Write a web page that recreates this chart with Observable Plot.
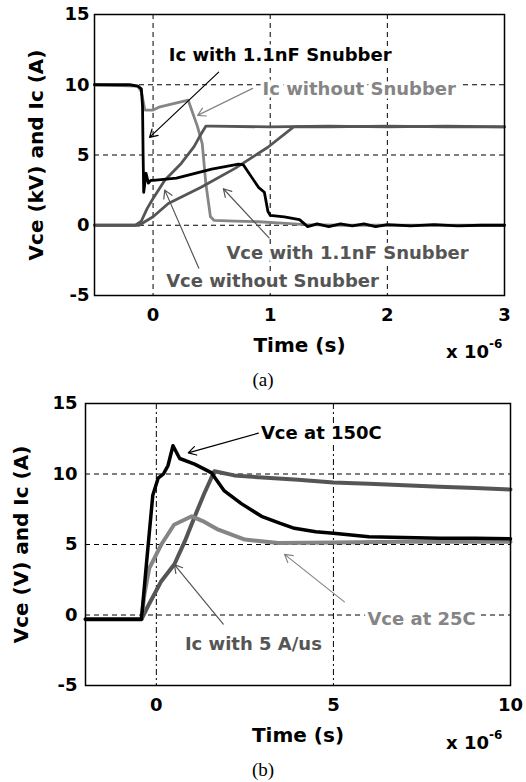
<!DOCTYPE html>
<html>
<head>
<meta charset="utf-8">
<script src="https://cdn.jsdelivr.net/npm/d3@7"></script>
<script src="https://cdn.jsdelivr.net/npm/@observablehq/plot@0.6"></script>
<style>
  html, body { margin: 0; padding: 0; background: #fff; }
  #wrap { position: relative; width: 526px; height: 782px; overflow: hidden; background: #fff; }
  .panel { position: absolute; left: 0; }
  .mult { position: absolute; font-family: "DejaVu Sans", sans-serif; font-weight: bold; font-size: 18px; color: #000; white-space: nowrap; }
  .mult sup { font-size: 12px; position: relative; top: -3px; }
  .cap { position: absolute; width: 526px; text-align: center; font-family: "Liberation Serif", "Times New Roman", serif; font-size: 19px; color: #000; }
</style>
</head>
<body>
<div id="wrap"></div>
<script>
// ---------------- Panel (a) data : time in microseconds ----------------
const aXTicks = [0, 1, 2, 3];
const aYTicks = [-5, 0, 5, 10, 15];

const aIcSnubT = [-0.5, -0.2, -0.13, -0.1, -0.09, -0.085, -0.08, -0.06, -0.04, -0.02, 0.0, 0.2, 0.5, 0.73, 0.77, 0.9, 0.95, 0.98, 1.0, 1.12, 1.25, 1.32, 1.4, 1.5, 1.6, 1.7, 1.8, 1.9, 2.0, 2.2, 2.4, 2.6, 2.8, 3.0];
const aIcSnubV = [10.0, 10.0, 9.9, 9.7, 8.5, 5.0, 2.35, 3.7, 3.0, 3.2, 3.2, 3.35, 4.0, 4.35, 4.3, 2.7, 2.35, 1.0, 0.7, 0.6, 0.4, -0.1, 0.1, -0.1, 0.1, -0.05, 0.1, -0.1, 0.05, -0.05, 0.05, -0.05, 0.0, 0.0];

const aIcNoSnubT = [-0.5, -0.13, -0.1, -0.07, 0.0, 0.05, 0.3, 0.38, 0.42, 0.45, 0.49, 0.52, 0.7, 0.9, 1.1, 1.3, 1.6, 2.0, 2.5, 3.0];
const aIcNoSnubV = [10.0, 9.9, 9.5, 8.2, 8.2, 8.4, 8.9, 7.0, 5.8, 3.0, 0.6, 0.35, 0.3, 0.25, 0.15, 0.05, 0.0, 0.0, 0.0, 0.0];

const aVceNoSnubT = [-0.5, -0.15, -0.1, -0.05, 0.0, 0.1, 0.24, 0.35, 0.41, 0.45, 0.5, 1.0, 1.5, 2.0, 2.5, 3.0];
const aVceNoSnubV = [0.0, 0.0, 0.3, 1.2, 1.9, 3.2, 4.4, 5.6, 6.5, 7.05, 7.05, 7.0, 7.05, 7.0, 7.05, 7.0];

const aVceSnubT = [-0.5, -0.12, 0.0, 0.13, 0.41, 0.7, 0.98, 1.2, 1.5, 2.0, 2.5, 3.0];
const aVceSnubV = [0.0, 0.0, 0.6, 1.55, 2.7, 4.05, 5.55, 7.0, 7.0, 7.05, 7.0, 7.0];

const aLabels = ["Ic with 1.1nF Snubber", "Ic without Snubber", "Vce with 1.1nF Snubber", "Vce without Snubber"];
const aLabelX = [1.085, 1.76, 1.66, 1.02];
const aLabelY = [12.1, 9.67, -1.99, -3.98];
const aArrowX1 = [0.56, 0.85, 0.99, 0.39];
const aArrowY1 = [10.9, 9.74, -0.9, -3.05];
const aArrowX2 = [-0.03, 0.38, 0.6, 0.1];
const aArrowY2 = [6.25, 7.82, 2.6, 2.5];

// ---------------- Panel (b) data : time in microseconds ----------------
const bXTicks = [0, 5, 10];
const bYTicks = [-5, 0, 5, 10, 15];

const bVce150T = [-2, -1, -0.42, -0.28, -0.1, 0.05, 0.2, 0.33, 0.47, 0.66, 1.08, 1.55, 1.92, 2.4, 2.97, 3.5, 3.9, 4.5, 5.0, 6.0, 7.0, 8.0, 9.0, 10];
const bVce150V = [-0.3, -0.3, -0.3, 3.6, 8.5, 9.7, 10.0, 10.6, 12.0, 11.1, 10.7, 10.1, 8.8, 7.9, 7.0, 6.5, 6.15, 5.9, 5.8, 5.55, 5.5, 5.45, 5.45, 5.4];

const bVce25T = [-2, -0.42, -0.34, -0.2, 0.14, 0.5, 1.0, 1.36, 1.75, 2.5, 3.45, 5, 7, 10];
const bVce25V = [-0.3, -0.3, 1.4, 3.3, 5.0, 6.4, 7.0, 6.6, 6.05, 5.35, 5.1, 5.15, 5.2, 5.2];

const bIc5T = [-2, -0.42, -0.2, 0.14, 0.51, 0.8, 1.07, 1.35, 1.64, 2.2, 3.0, 4.0, 5.0, 6.0, 7.0, 8.0, 9.0, 10];
const bIc5V = [-0.3, -0.3, 0.8, 2.4, 3.6, 5.2, 6.9, 8.6, 10.2, 9.9, 9.75, 9.6, 9.4, 9.3, 9.2, 9.1, 9.0, 8.9];

const bLabels = ["Vce at 150C", "Vce at 25C", "Ic with 5 A/us"];
const bLabelX = [4.66, 7.49, 2.74];
const bLabelY = [12.86, -0.29, -2.07];
const bArrowX1 = [2.88, 5.31, 1.89];
const bArrowY1 = [12.9, 0.93, -0.64];
const bArrowX2 = [0.9, 3.62, 0.51];
const bArrowY2 = [11.5, 4.3, 3.57];

// ---------------- helpers ----------------
const pts = (t, v) => t.map((d, i) => ({t: d, v: v[i]}));
const ann = (labels, x, y, x1, y1, x2, y2) => labels.map((s, i) => ({s, x: x[i], y: y[i], x1: x1[i], y1: y1[i], x2: x2[i], y2: y2[i]}));
const fmt = d => String(d);
const FONT = "DejaVu Sans, Verdana, sans-serif";
const BLACK = "#000", LIGHT = "#858585", DARK = "#555";

const aAnn = ann(aLabels, aLabelX, aLabelY, aArrowX1, aArrowY1, aArrowX2, aArrowY2);
const aAnnColor = [BLACK, LIGHT, DARK, DARK];
const bAnn = ann(bLabels, bLabelX, bLabelY, bArrowX1, bArrowY1, bArrowX2, bArrowY2);
const bAnnColor = [BLACK, LIGHT, DARK];

function annotationMarks(list, colors) {
  const marks = [];
  list.forEach((d, i) => {
    marks.push(Plot.text([d], {x: "x", y: "y", text: "s", fill: colors[i], stroke: "white", strokeWidth: 7,
      fontFamily: FONT, fontSize: 18, fontWeight: "bold"}));
  });
  list.forEach((d, i) => {
    marks.push(Plot.arrow([d], {x1: "x1", y1: "y1", x2: "x2", y2: "y2", stroke: colors[i], strokeWidth: 1.2, headLength: 11}));
  });
  return marks;
}

const commonStyle = {fontFamily: FONT, fontSize: "18px", fontWeight: "bold", color: "#000", background: "transparent", overflow: "visible"};

// ---------------- Panel (a) ----------------
const plotA = Plot.plot({
  width: 526, height: 360,
  marginTop: 14, marginLeft: 94, marginRight: 22, marginBottom: 65,
  style: commonStyle,
  x: {domain: [-0.5, 3]},
  y: {domain: [-5, 15]},
  marks: [
    Plot.ruleY([10, 5, 0], {stroke: "#000", strokeWidth: 1, strokeDasharray: "5,4"}),
    Plot.ruleX([0, 1, 2], {stroke: "#000", strokeWidth: 1, strokeDasharray: "5,4"}),
    Plot.line(pts(aIcNoSnubT, aIcNoSnubV), {x: "t", y: "v", stroke: LIGHT, strokeWidth: 2.8}),
    Plot.line(pts(aVceNoSnubT, aVceNoSnubV), {x: "t", y: "v", stroke: DARK, strokeWidth: 2.8}),
    Plot.line(pts(aVceSnubT, aVceSnubV), {x: "t", y: "v", stroke: DARK, strokeWidth: 2.8}),
    Plot.line(pts(aIcSnubT, aIcSnubV), {x: "t", y: "v", stroke: BLACK, strokeWidth: 2.8}),
    ...annotationMarks(aAnn, aAnnColor),
    Plot.axisX({ticks: aXTicks, tickFormat: fmt, tickSize: 0, tickPadding: 13, label: null}),
    Plot.axisX({ticks: [], label: "Time (s)", labelAnchor: "center", labelArrow: "none", labelOffset: 56, fontSize: 20}),
    Plot.axisY({ticks: aYTicks, tickFormat: fmt, tickSize: 0, tickPadding: 5, label: null}),
    Plot.axisY({ticks: [], label: "Vce (kV) and Ic (A)", labelAnchor: "center", labelArrow: "none", labelOffset: 66, fontSize: 20}),
    Plot.frame({stroke: "#000", strokeWidth: 1.5})
  ]
});

// ---------------- Panel (b) ----------------
const plotB = Plot.plot({
  width: 526, height: 360,
  marginTop: 13, marginLeft: 85, marginRight: 16, marginBottom: 65,
  style: commonStyle,
  x: {domain: [-2, 10]},
  y: {domain: [-5, 15]},
  marks: [
    Plot.ruleY([10, 5, 0], {stroke: "#000", strokeWidth: 1, strokeDasharray: "5,4"}),
    Plot.ruleX([0, 5], {stroke: "#000", strokeWidth: 1, strokeDasharray: "6,3,2,3"}),
    Plot.line(pts(bIc5T, bIc5V), {x: "t", y: "v", stroke: DARK, strokeWidth: 4}),
    Plot.line(pts(bVce25T, bVce25V), {x: "t", y: "v", stroke: LIGHT, strokeWidth: 4}),
    Plot.line(pts(bVce150T, bVce150V), {x: "t", y: "v", stroke: BLACK, strokeWidth: 3.5}),
    ...annotationMarks(bAnn, bAnnColor),
    Plot.axisX({ticks: bXTicks, tickFormat: fmt, tickSize: 0, tickPadding: 13, label: null}),
    Plot.axisX({ticks: [], label: "Time (s)", labelAnchor: "center", labelArrow: "none", labelOffset: 56, fontSize: 20}),
    Plot.axisY({ticks: bYTicks, tickFormat: fmt, tickSize: 0, tickPadding: 8, label: null}),
    Plot.axisY({ticks: [], label: "Vce (V) and Ic (A)", labelAnchor: "center", labelArrow: "none", labelOffset: 72, fontSize: 20}),
    Plot.frame({stroke: "#000", strokeWidth: 1.5})
  ]
});

const wrap = document.getElementById("wrap");
plotA.classList.add("panel"); plotA.style.top = "0px";
plotB.classList.add("panel"); plotB.style.top = "390px";
wrap.appendChild(plotA);
wrap.appendChild(plotB);

function addDiv(cls, html, left, top) {
  const d = document.createElement("div");
  d.className = cls; d.innerHTML = html;
  if (left !== null) d.style.left = left + "px";
  d.style.top = top + "px";
  wrap.appendChild(d);
}
addDiv("mult", "x 10<sup>-6</sup>", 446, 340);
addDiv("cap", "(a)", 0, 369);
addDiv("mult", "x 10<sup>-6</sup>", 446, 731);
addDiv("cap", "(b)", 0, 759);
</script>
</body>
</html>
